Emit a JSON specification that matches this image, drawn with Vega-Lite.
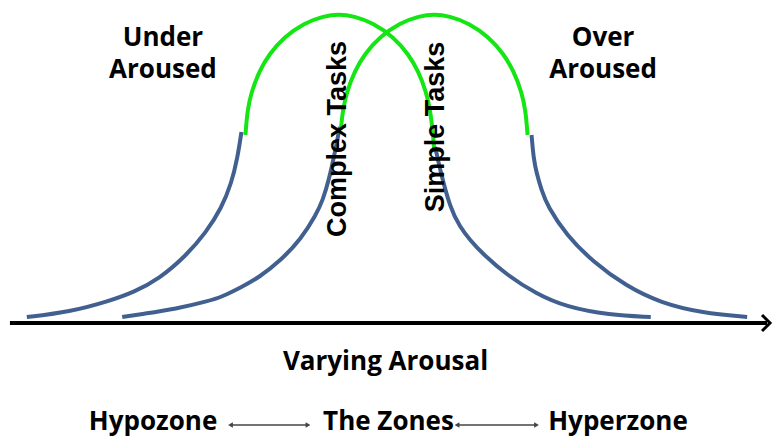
{
  "$schema": "https://vega.github.io/schema/vega-lite/v6.json",
  "width": 776,
  "height": 437,
  "autosize": {"type": "fit", "contains": "padding"},
  "padding": 0,
  "background": "white",
  "config": {"view": {"stroke": null}},
  "layer": [
    {
      "data": {"values": [
        {"seg": "A1", "part": "tail", "x": 27, "p": 6},
        {"seg": "A1", "part": "tail", "x": 70, "p": 11},
        {"seg": "A1", "part": "tail", "x": 110, "p": 22},
        {"seg": "A1", "part": "tail", "x": 135, "p": 31},
        {"seg": "A1", "part": "tail", "x": 160, "p": 44},
        {"seg": "A1", "part": "tail", "x": 187, "p": 67},
        {"seg": "A1", "part": "tail", "x": 207, "p": 90},
        {"seg": "A1", "part": "tail", "x": 223, "p": 115},
        {"seg": "A1", "part": "tail", "x": 233, "p": 140},
        {"seg": "A1", "part": "tail", "x": 239, "p": 165},
        {"seg": "A1", "part": "tail", "x": 243, "p": 191},
        {"seg": "A2", "part": "peak", "x": 247, "p": 188},
        {"seg": "A2", "part": "peak", "x": 249, "p": 213},
        {"seg": "A2", "part": "peak", "x": 253, "p": 231},
        {"seg": "A2", "part": "peak", "x": 261, "p": 252},
        {"seg": "A2", "part": "peak", "x": 271, "p": 269},
        {"seg": "A2", "part": "peak", "x": 286, "p": 286},
        {"seg": "A2", "part": "peak", "x": 306, "p": 300},
        {"seg": "A2", "part": "peak", "x": 326, "p": 307},
        {"seg": "A2", "part": "peak", "x": 341, "p": 309},
        {"seg": "A2", "part": "peak", "x": 356, "p": 307},
        {"seg": "A2", "part": "peak", "x": 376, "p": 300},
        {"seg": "A2", "part": "peak", "x": 396, "p": 286},
        {"seg": "A2", "part": "peak", "x": 411, "p": 269},
        {"seg": "A2", "part": "peak", "x": 421, "p": 252},
        {"seg": "A2", "part": "peak", "x": 429, "p": 231},
        {"seg": "A2", "part": "peak", "x": 433, "p": 213},
        {"seg": "A2", "part": "peak", "x": 436, "p": 188},
        {"seg": "A2", "part": "peak", "x": 437, "p": 173},
        {"seg": "A3", "part": "tail", "x": 438, "p": 176},
        {"seg": "A3", "part": "tail", "x": 443, "p": 153},
        {"seg": "A3", "part": "tail", "x": 453, "p": 115},
        {"seg": "A3", "part": "tail", "x": 463, "p": 96},
        {"seg": "A3", "part": "tail", "x": 473, "p": 83},
        {"seg": "A3", "part": "tail", "x": 485, "p": 70},
        {"seg": "A3", "part": "tail", "x": 510, "p": 48},
        {"seg": "A3", "part": "tail", "x": 540, "p": 29},
        {"seg": "A3", "part": "tail", "x": 570, "p": 16},
        {"seg": "A3", "part": "tail", "x": 613, "p": 8},
        {"seg": "A3", "part": "tail", "x": 655, "p": 6},
        {"seg": "B1", "part": "tail", "x": 123, "p": 6},
        {"seg": "B1", "part": "tail", "x": 143, "p": 9},
        {"seg": "B1", "part": "tail", "x": 177, "p": 14},
        {"seg": "B1", "part": "tail", "x": 210, "p": 22},
        {"seg": "B1", "part": "tail", "x": 223, "p": 26},
        {"seg": "B1", "part": "tail", "x": 243, "p": 36},
        {"seg": "B1", "part": "tail", "x": 260, "p": 45},
        {"seg": "B1", "part": "tail", "x": 283, "p": 63},
        {"seg": "B1", "part": "tail", "x": 303, "p": 84},
        {"seg": "B1", "part": "tail", "x": 318, "p": 108},
        {"seg": "B1", "part": "tail", "x": 325, "p": 123},
        {"seg": "B1", "part": "tail", "x": 331, "p": 143},
        {"seg": "B1", "part": "tail", "x": 337, "p": 170},
        {"seg": "B1", "part": "tail", "x": 342, "p": 196},
        {"seg": "B2", "part": "peak", "x": 343, "p": 193},
        {"seg": "B2", "part": "peak", "x": 345, "p": 213},
        {"seg": "B2", "part": "peak", "x": 349, "p": 231},
        {"seg": "B2", "part": "peak", "x": 357, "p": 252},
        {"seg": "B2", "part": "peak", "x": 367, "p": 269},
        {"seg": "B2", "part": "peak", "x": 382, "p": 286},
        {"seg": "B2", "part": "peak", "x": 402, "p": 300},
        {"seg": "B2", "part": "peak", "x": 422, "p": 307},
        {"seg": "B2", "part": "peak", "x": 437, "p": 309},
        {"seg": "B2", "part": "peak", "x": 452, "p": 307},
        {"seg": "B2", "part": "peak", "x": 472, "p": 300},
        {"seg": "B2", "part": "peak", "x": 492, "p": 286},
        {"seg": "B2", "part": "peak", "x": 507, "p": 269},
        {"seg": "B2", "part": "peak", "x": 517, "p": 252},
        {"seg": "B2", "part": "peak", "x": 525, "p": 231},
        {"seg": "B2", "part": "peak", "x": 529, "p": 213},
        {"seg": "B2", "part": "peak", "x": 531, "p": 188},
        {"seg": "B3", "part": "tail", "x": 535, "p": 188},
        {"seg": "B3", "part": "tail", "x": 537, "p": 165},
        {"seg": "B3", "part": "tail", "x": 540, "p": 150},
        {"seg": "B3", "part": "tail", "x": 545, "p": 133},
        {"seg": "B3", "part": "tail", "x": 551, "p": 117},
        {"seg": "B3", "part": "tail", "x": 570, "p": 88},
        {"seg": "B3", "part": "tail", "x": 597, "p": 61},
        {"seg": "B3", "part": "tail", "x": 630, "p": 37},
        {"seg": "B3", "part": "tail", "x": 665, "p": 20},
        {"seg": "B3", "part": "tail", "x": 707, "p": 10},
        {"seg": "B3", "part": "tail", "x": 752, "p": 6}
      ]},
      "mark": {"type": "line", "interpolate": "basis", "strokeWidth": 4, "strokeCap": "butt"},
      "encoding": {
        "x": {"field": "x", "type": "quantitative", "scale": {"domain": [0, 776], "nice": false, "zero": false}, "axis": null},
        "y": {"field": "p", "type": "quantitative", "scale": {"domain": [-114, 323], "nice": false, "zero": false}, "axis": null},
        "detail": {"field": "seg"},
        "color": {"field": "part", "type": "nominal", "scale": {"domain": ["tail", "peak"], "range": ["#41608f", "#14e614"]}, "legend": null}
      }
    },
    {
      "data": {"values": [{"x": 10, "x2": 772, "p": 0}]},
      "mark": {"type": "rule", "color": "black", "strokeWidth": 4},
      "encoding": {
        "x": {"field": "x", "type": "quantitative"},
        "x2": {"field": "x2"},
        "y": {"field": "p", "type": "quantitative"}
      }
    },
    {
      "data": {"values": [{"x": 775, "p": 0}]},
      "mark": {"type": "point", "shape": "M-1,-1L0,0L-1,1", "size": 256, "stroke": "black", "strokeWidth": 3, "filled": false, "opacity": 1},
      "encoding": {
        "x": {"field": "x", "type": "quantitative"},
        "y": {"field": "p", "type": "quantitative"}
      }
    },
    {
      "data": {"values": [{"x": 232, "x2": 310, "p": -102}, {"x": 460, "x2": 540, "p": -102}]},
      "mark": {"type": "rule", "color": "#444444", "strokeWidth": 1.5},
      "encoding": {
        "x": {"field": "x", "type": "quantitative"},
        "x2": {"field": "x2"},
        "y": {"field": "p", "type": "quantitative"}
      }
    },
    {
      "data": {"values": [
        {"x": 232, "p": -102, "dir": "left"},
        {"x": 310, "p": -102, "dir": "right"},
        {"x": 460, "p": -102, "dir": "left"},
        {"x": 540, "p": -102, "dir": "right"}
      ]},
      "mark": {"type": "point", "filled": true, "size": 30, "color": "#444444", "opacity": 1},
      "encoding": {
        "x": {"field": "x", "type": "quantitative"},
        "y": {"field": "p", "type": "quantitative"},
        "shape": {"field": "dir", "type": "nominal", "scale": {"domain": ["left", "right"], "range": ["triangle-left", "triangle-right"]}, "legend": null}
      }
    },
    {
      "data": {"values": [
        {"t": "Under\nAroused", "x": 164, "p": 277},
        {"t": "Over\nAroused", "x": 607, "p": 277}
      ]},
      "mark": {"type": "text", "font": "Open Sans", "fontSize": 26, "fontWeight": "bold", "align": "center", "baseline": "alphabetic", "lineBreak": "\n", "lineHeight": 32, "color": "black"},
      "encoding": {
        "x": {"field": "x", "type": "quantitative"},
        "y": {"field": "p", "type": "quantitative"},
        "text": {"field": "t"}
      }
    },
    {
      "data": {"values": [
        {"t": "Complex Tasks", "x": 348, "p": 184},
        {"t": "Simple Tasks", "x": 447, "p": 196}
      ]},
      "mark": {"type": "text", "font": "Liberation Sans", "fontSize": 27, "fontWeight": "bold", "angle": 270, "align": "center", "baseline": "alphabetic", "color": "black"},
      "encoding": {
        "x": {"field": "x", "type": "quantitative"},
        "y": {"field": "p", "type": "quantitative"},
        "text": {"field": "t"}
      }
    },
    {
      "data": {"values": [
        {"t": "Varying Arousal", "x": 388, "p": -47},
        {"t": "Hypozone", "x": 154, "p": -107},
        {"t": "The Zones", "x": 391, "p": -107},
        {"t": "Hyperzone", "x": 622, "p": -107}
      ]},
      "mark": {"type": "text", "font": "Open Sans", "fontSize": 26, "fontWeight": "bold", "align": "center", "baseline": "alphabetic", "color": "black"},
      "encoding": {
        "x": {"field": "x", "type": "quantitative"},
        "y": {"field": "p", "type": "quantitative"},
        "text": {"field": "t"}
      }
    }
  ]
}
